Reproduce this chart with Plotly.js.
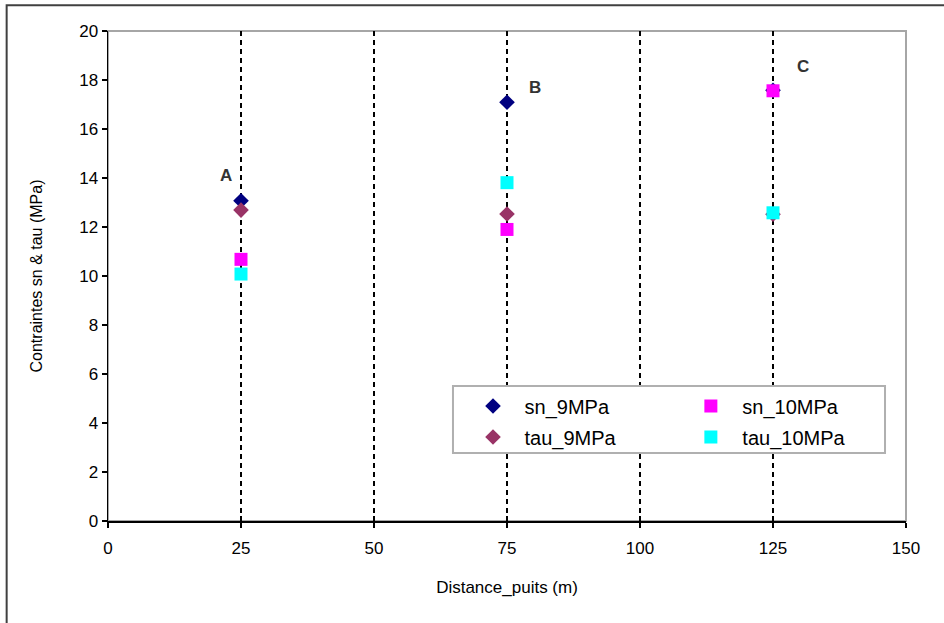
<!DOCTYPE html>
<html>
<head>
<meta charset="utf-8">
<script src="https://cdn.plot.ly/plotly-3.0.1.min.js"></script>
<style>html,body{margin:0;padding:0;background:#fff;}#chart{width:944px;height:623px;}</style>
</head>
<body>
<div id="chart"></div>
<script>
// Data
const distance = [25, 75, 125];
const sn_9MPa = [13.07, 17.09, 17.58];
const tau_9MPa = [12.69, 12.53, 12.52];
const sn_10MPa = [10.68, 11.90, 17.56];
const tau_10MPa = [10.08, 13.81, 12.58];
const xTickVals = [0, 25, 50, 75, 100, 125, 150];
const gridVals = [25, 50, 75, 100, 125];
const labelText = ['A', 'B', 'C'];
const labelX = [22.2, 80.3, 130.6];
const labelY = [14.1, 17.7, 18.55];

const font = 'Liberation Sans, Arial, sans-serif';

const traces = [
  {x: distance, y: sn_9MPa, name: 'sn_9MPa', mode: 'markers', type: 'scatter',
   marker: {symbol: 'diamond', size: 12, color: '#000080'}, legend: 'legend', legendgroup: 'a'},
  {x: distance, y: tau_9MPa, name: 'tau_9MPa', mode: 'markers', type: 'scatter',
   marker: {symbol: 'diamond', size: 12, color: '#993366'}, legend: 'legend', legendgroup: 'b'},
  {x: distance, y: sn_10MPa, name: 'sn_10MPa', mode: 'markers', type: 'scatter',
   marker: {symbol: 'square', size: 13, color: '#FF00FF'}, legend: 'legend2', legendgroup: 'c'},
  {x: distance, y: tau_10MPa, name: 'tau_10MPa', mode: 'markers', type: 'scatter',
   marker: {symbol: 'square', size: 13, color: '#00FFFF'}, legend: 'legend2', legendgroup: 'd'},
  {x: [0], y: [0], xaxis: 'x2', yaxis: 'y', mode: 'markers', marker: {opacity: 0}, showlegend: false, hoverinfo: 'skip'}
];

const legendCommon = {
  bgcolor: 'rgba(0,0,0,0)', borderwidth: 0, font: {family: font, size: 20, color: '#000'},
  yanchor: 'middle', y: 0.203, xanchor: 'left', tracegroupgap: 2, itemwidth: 53
};

const layout = {
  width: 944, height: 623,
  margin: {l: 108, r: 38, t: 31, b: 102},
  paper_bgcolor: '#fff', plot_bgcolor: '#fff',
  showlegend: true,
  font: {family: font, size: 16, color: '#000'},
  xaxis: {
    range: [0, 150], tickvals: xTickVals, ticks: 'outside', ticklen: 5, tickwidth: 1.5,
    tickcolor: '#000', showgrid: false, zeroline: false, showline: true, linecolor: '#000', linewidth: 1.5,
    tickfont: {family: font, size: 17}, ticklabelstandoff: 6,
    title: {text: 'Distance_puits (m)', font: {family: font, size: 17}, standoff: 24}
  },
  xaxis2: {
    range: [0, 150], overlaying: 'x', anchor: 'y', side: 'bottom', tickvals: gridVals,
    ticks: 'inside', ticklen: 5, tickwidth: 1.5, tickcolor: '#000', showticklabels: false,
    showgrid: true, gridcolor: '#000', griddash: '5px,4px', gridwidth: 1.3, zeroline: false, showline: false
  },
  yaxis: {
    range: [0, 20], dtick: 2, ticks: 'outside', ticklen: 5, tickwidth: 1.5, tickcolor: '#000',
    showgrid: false, zeroline: false, showline: true, linecolor: '#000', linewidth: 1.5,
    tickfont: {family: font, size: 17},
    title: {text: 'Contraintes sn & tau (MPa)', font: {family: font, size: 16}, standoff: 32}
  },
  legend: Object.assign({}, legendCommon, {x: 0.443}),
  legend2: Object.assign({}, legendCommon, {x: 0.716}),
  shapes: [
    {type: 'rect', xref: 'paper', yref: 'paper', x0: 0, x1: 1, y0: 0, y1: 1,
     line: {color: '#a6a6a6', width: 2}, layer: 'below'},
    {type: 'rect', xref: 'paper', yref: 'paper', x0: 0.4323, x1: 0.9737, y0: 0.1388, y1: 0.2755,
     line: {color: '#b0b0b0', width: 2}, fillcolor: '#fff', layer: 'above'},
    {type: 'rect', xref: 'paper', yref: 'paper', x0: -0.127, x1: 1.2, y0: -0.5, y1: 1.0525,
     line: {color: '#404040', width: 2}, layer: 'above'}
  ],
  annotations: labelText.map((t, i) => ({
    x: labelX[i], y: labelY[i], xref: 'x', yref: 'y', text: '<b>' + t + '</b>', showarrow: false,
    font: {family: font, size: 17, color: '#333'}
  }))
};

Plotly.newPlot('chart', traces, layout, {staticPlot: true, displayModeBar: false});
</script>
</body>
</html>
